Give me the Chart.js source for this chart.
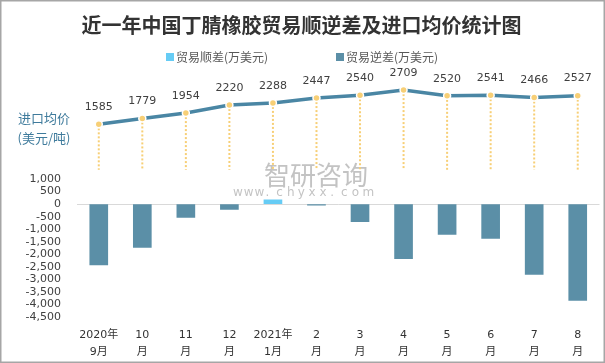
<!DOCTYPE html>
<html lang="zh">
<head>
<meta charset="UTF-8">
<title>近一年中国丁腈橡胶贸易顺逆差及进口均价统计图</title>
<script src="https://cdn.jsdelivr.net/npm/chart.js"></script>
<style>
  html, body { margin: 0; padding: 0; background: #fff; }
  #box { width: 605px; height: 363px; }
</style>
</head>
<body>
<div id="box"><canvas id="chart" width="605" height="363"></canvas></div>
<script>
// month labels (two lines each)
var months = [['2020年', '9月'], ['10', '月'], ['11', '月'], ['12', '月'], ['2021年', '1月'], ['2', '月'],
              ['3', '月'], ['4', '月'], ['5', '月'], ['6', '月'], ['7', '月'], ['8', '月']];
// 贸易顺差 / 逆差 (万美元)
var surplus = [null, null, null, null, 170, null, null, null, null, null, null, null];
var deficit = [-2420, -1730, -530, -215, null, -40, -700, -2170, -1210, -1370, -2800, -3840];
// 进口均价 (美元/吨)
var avgPrice = [1585, 1779, 1954, 2220, 2288, 2447, 2540, 2709, 2520, 2541, 2466, 2527];
var balanceTicks = [1000, 500, 0, -500, -1000, -1500, -2000, -2500, -3000, -3500, -4000, -4500];

var FONT = "'DejaVu Sans', 'Noto Sans CJK SC', sans-serif";
var CJK = "'Noto Sans CJK SC', sans-serif";

var decor = {
    id: 'decor',
    beforeDatasetsDraw: function (chart) {
        var ctx = chart.ctx;
        // watermark
        ctx.save();
        ctx.fillStyle = 'rgba(175,175,175,0.75)';
        ctx.font = '26px ' + CJK;
        ctx.textBaseline = 'middle';
        ctx.fillText('智研咨询', 264, 175);
        ctx.font = '12px ' + FONT;
        var w = 'www.chyxx.com';
        for (var i = 0; i < w.length; i++) {
            ctx.fillText(w[i], 233 + i * 10.8, 193);
        }
        ctx.restore();

        // dotted drop lines from each price point
        var pts = chart.getDatasetMeta(2).data;
        var yEnd = chart.scales.y.getPixelForValue(1370);
        ctx.save();
        ctx.strokeStyle = '#f7cf76';
        ctx.lineWidth = 2;
        ctx.setLineDash([2, 2]);
        pts.forEach(function (p) {
            ctx.beginPath();
            ctx.moveTo(p.x, p.y);
            ctx.lineTo(p.x, yEnd);
            ctx.stroke();
        });
        ctx.restore();
    },
    afterDatasetsDraw: function (chart) {
        var ctx = chart.ctx;
        var pts = chart.getDatasetMeta(2).data;
        ctx.save();
        ctx.fillStyle = '#404040';
        ctx.font = '11px ' + FONT;
        ctx.textAlign = 'center';
        ctx.textBaseline = 'middle';
        pts.forEach(function (p, i) {
            ctx.fillText(avgPrice[i], p.x, p.y - 17);
        });
        ctx.restore();
    },
    afterDraw: function (chart) {
        var ctx = chart.ctx;
        ctx.save();
        // legend
        ctx.font = '12px ' + CJK;
        ctx.textBaseline = 'middle';
        var items = [[0, 166], [1, 336]];
        items.forEach(function (it) {
            var ds = chart.data.datasets[it[0]];
            ctx.fillStyle = ds.backgroundColor;
            ctx.fillRect(it[1], 53, 8, 8);
            ctx.fillStyle = '#595959';
            ctx.fillText(ds.label, it[1] + 10, 57);
        });
        // left title for the price line
        ctx.fillStyle = '#3f7b9c';
        ctx.font = '13px ' + CJK;
        ctx.textAlign = 'center';
        ctx.fillText('进口均价', 44, 118);
        ctx.fillText('(美元/吨)', 44, 138);
        // frame
        ctx.strokeStyle = '#a6a6a6';
        ctx.lineWidth = 1.5;
        ctx.strokeRect(0.75, 0.75, 603.5, 361.5);
        ctx.restore();
    }
};

new Chart(document.getElementById('chart'), {
    data: {
        labels: months,
        datasets: [{
            type: 'bar',
            label: '贸易顺差(万美元)',
            data: surplus,
            backgroundColor: '#66ccf5',
            barThickness: 18,
            grouped: false,
            yAxisID: 'y',
            order: 2
        }, {
            type: 'bar',
            label: '贸易逆差(万美元)',
            data: deficit,
            backgroundColor: '#5b8fa7',
            barThickness: 18,
            grouped: false,
            yAxisID: 'y',
            order: 2
        }, {
            type: 'line',
            label: '进口均价(美元/吨)',
            data: avgPrice,
            borderColor: '#4a86a4',
            borderWidth: 3.5,
            pointRadius: 3.5,
            pointBackgroundColor: '#f7cf76',
            pointBorderColor: '#ffffff',
            pointBorderWidth: 1.5,
            tension: 0,
            yAxisID: 'y2',
            order: 0
        }]
    },
    options: {
        responsive: false,
        animation: false,
        layout: { padding: { left: 0, right: 2, top: 0, bottom: 0 } },
        plugins: {
            legend: { display: false },
            tooltip: { enabled: false },
            title: {
                display: true,
                text: '近一年中国丁腈橡胶贸易顺逆差及进口均价统计图',
                color: '#333333',
                font: { family: CJK, size: 20, weight: 'bold' },
                padding: { top: 13, bottom: 43 }
            }
        },
        scales: {
            x: {
                afterFit: function (scale) { scale.height = 46; },
                grid: { display: false, drawTicks: false },
                border: { display: false },
                ticks: {
                    color: '#333333',
                    font: { family: FONT, size: 11, lineHeight: 1.6 },
                    padding: 9,
                    maxRotation: 0,
                    autoSkip: false
                }
            },
            y: {
                position: 'left',
                min: -4500,
                max: 4950,
                afterFit: function (scale) { scale.width = 77; },
                afterBuildTicks: function (scale) {
                    scale.ticks = balanceTicks.map(function (v) { return { value: v }; });
                },
                grid: {
                    drawTicks: false,
                    color: function (c) { return c.tick && c.tick.value === 0 ? '#d9d9d9' : 'rgba(0,0,0,0)'; },
                    lineWidth: 1
                },
                border: { display: false },
                ticks: {
                    color: '#404040',
                    font: { family: FONT, size: 11 },
                    padding: 16,
                    callback: function (v) { return v.toLocaleString('en-US'); }
                }
            },
            y2: {
                display: false,
                min: -4740,
                max: 3040
            }
        }
    },
    plugins: [decor]
});
</script>
</body>
</html>
